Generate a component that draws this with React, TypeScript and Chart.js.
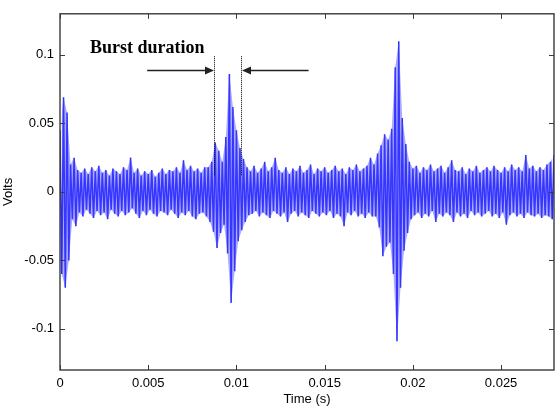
import { useEffect, useRef } from "react";
import { Chart, registerables } from "chart.js";

Chart.register(...registerables);

// Oscillating probe signal: alternating positive / negative extrema, one every SAMPLE_STEP seconds.
const SAMPLE_STEP = 0.0001;

// Positive extrema at t = 2k * SAMPLE_STEP (V)
const positivePeaks = [
  0.045, 0.069, 0.058, 0.020, 0.025,
  0.016, 0.014, 0.017, 0.013, 0.018, 0.015, 0.019, 0.014, 0.016, 0.012,
  0.017, 0.015, 0.013, 0.018, 0.016, 0.025, 0.014, 0.017, 0.012, 0.015,
  0.013, 0.016, 0.011, 0.014, 0.017, 0.013, 0.016, 0.015, 0.018, 0.014,
  0.023, 0.016, 0.019, 0.015, 0.017, 0.014, 0.018,
  0.018, 0.022, 0.036, 0.030, 0.022, 0.040, 0.086, 0.062, 0.045, 0.032, 0.024, 0.018,
  0.015, 0.019, 0.014, 0.017, 0.022, 0.015, 0.018, 0.025, 0.016, 0.014,
  0.018, 0.013, 0.017, 0.015, 0.019, 0.014, 0.016, 0.020, 0.013, 0.017,
  0.015, 0.018, 0.014, 0.016, 0.019, 0.015, 0.017, 0.013, 0.018, 0.016,
  0.020, 0.015, 0.017, 0.019, 0.025,
  0.020, 0.028, 0.034, 0.042, 0.038, 0.046, 0.091, 0.110, 0.054, 0.035, 0.022,
  0.017, 0.019, 0.014, 0.018, 0.016, 0.020, 0.015, 0.017, 0.019, 0.014,
  0.018, 0.023, 0.016, 0.015, 0.018, 0.013, 0.017, 0.015, 0.019, 0.014,
  0.016, 0.018, 0.015, 0.019, 0.016, 0.014, 0.018, 0.015, 0.020, 0.016,
  0.018, 0.015, 0.027, 0.017, 0.019, 0.015, 0.018, 0.016, 0.020, 0.022,
  0.027,
];

// Negative extrema at t = (2k + 1) * SAMPLE_STEP (V)
const negativePeaks = [
  -0.060, -0.070, -0.050, -0.020, -0.025,
  -0.015, -0.018, -0.013, -0.016, -0.019, -0.014, -0.017, -0.015, -0.020, -0.013,
  -0.016, -0.018, -0.014, -0.017, -0.015, -0.012, -0.016, -0.019, -0.014, -0.017,
  -0.013, -0.016, -0.018, -0.014, -0.015, -0.017, -0.013, -0.016, -0.019, -0.015,
  -0.017, -0.014, -0.018, -0.020, -0.016, -0.015, -0.018,
  -0.022, -0.029, -0.041, -0.030, -0.024, -0.045, -0.081, -0.058, -0.036, -0.028, -0.022, -0.017,
  -0.016, -0.014, -0.018, -0.015, -0.017, -0.019, -0.014, -0.016, -0.018, -0.015,
  -0.022, -0.016, -0.014, -0.018, -0.015, -0.017, -0.019, -0.014, -0.016, -0.018,
  -0.015, -0.017, -0.014, -0.019, -0.016, -0.018, -0.025, -0.015, -0.017, -0.014,
  -0.018, -0.016, -0.019, -0.015, -0.018,
  -0.018, -0.026, -0.047, -0.040, -0.037, -0.060, -0.109, -0.070, -0.043, -0.030, -0.020,
  -0.017, -0.015, -0.019, -0.016, -0.018, -0.014, -0.022, -0.016, -0.018, -0.015,
  -0.017, -0.022, -0.015, -0.018, -0.016, -0.019, -0.014, -0.017, -0.015, -0.018,
  -0.016, -0.014, -0.018, -0.016, -0.019, -0.015, -0.024, -0.017, -0.015, -0.018,
  -0.016, -0.019, -0.015, -0.017, -0.018, -0.016, -0.019, -0.017, -0.018, -0.020,
];

const X_TICKS = [0, 0.005, 0.01, 0.015, 0.02, 0.025];
const Y_TICKS = [-0.1, -0.05, 0, 0.05, 0.1];
const X_MIN = 0;
const X_MAX = 0.028;
const Y_MIN = -0.13;
const Y_MAX = 0.13;

// "Burst duration" marker, in data units
const BURST_START = 0.00875;
const BURST_END = 0.01028;
const MARKER_TOP = 0.099;
const MARKER_BOTTOM = 0.0122;
const ARROW_LEVEL = 0.0892;
const ARROW_LEFT_TAIL = 0.00494;
const ARROW_RIGHT_TAIL = 0.01409;
const LABEL_X = 0.0017;
const LABEL_Y = 0.1014;
const LABEL_TEXT = "Burst duration";

const upperEnvelope = positivePeaks.map((y, k) => ({ x: 2 * k * SAMPLE_STEP, y }));
const lowerEnvelope = negativePeaks.map((y, k) => ({ x: (2 * k + 1) * SAMPLE_STEP, y }));

function buildSignal() {
  const pts: { x: number; y: number }[] = [];
  for (let k = 0; k < upperEnvelope.length; k++) {
    pts.push(upperEnvelope[k]);
    if (k < lowerEnvelope.length) pts.push(lowerEnvelope[k]);
  }
  return pts;
}

const framePlugin = {
  id: "matlabFrame",
  afterDraw(chart: any) {
    const { ctx, chartArea: a, scales } = chart;
    const xs = scales.x;
    const ys = scales.y;
    const tl = 5;
    ctx.save();
    ctx.strokeStyle = "#3a3a3a";
    ctx.lineWidth = 1.4;
    ctx.strokeRect(a.left, a.top, a.right - a.left, a.bottom - a.top);
    ctx.lineWidth = 1;
    ctx.beginPath();
    for (const v of X_TICKS) {
      const px = Math.round(xs.getPixelForValue(v)) + 0.5;
      ctx.moveTo(px, a.bottom);
      ctx.lineTo(px, a.bottom - tl);
      ctx.moveTo(px, a.top);
      ctx.lineTo(px, a.top + tl);
    }
    for (const v of Y_TICKS) {
      const py = Math.round(ys.getPixelForValue(v)) + 0.5;
      ctx.moveTo(a.left, py);
      ctx.lineTo(a.left + tl, py);
      ctx.moveTo(a.right, py);
      ctx.lineTo(a.right - tl, py);
    }
    ctx.stroke();
    ctx.restore();
  },
};

const burstPlugin = {
  id: "burstMarker",
  afterDatasetsDraw(chart: any) {
    const { ctx, scales } = chart;
    const xs = scales.x;
    const ys = scales.y;
    const x1 = Math.round(xs.getPixelForValue(BURST_START)) + 0.5;
    const x2 = Math.round(xs.getPixelForValue(BURST_END)) + 0.5;
    const yTop = ys.getPixelForValue(MARKER_TOP);
    const yBot = ys.getPixelForValue(MARKER_BOTTOM);
    const ya = Math.round(ys.getPixelForValue(ARROW_LEVEL)) + 0.5;
    const xl = xs.getPixelForValue(ARROW_LEFT_TAIL);
    const xr = xs.getPixelForValue(ARROW_RIGHT_TAIL);

    ctx.save();
    // dotted boundaries
    ctx.strokeStyle = "#000";
    ctx.lineWidth = 1;
    ctx.setLineDash([1, 1]);
    ctx.beginPath();
    ctx.moveTo(x1, yTop);
    ctx.lineTo(x1, yBot);
    ctx.moveTo(x2, yTop);
    ctx.lineTo(x2, yBot);
    ctx.stroke();
    ctx.setLineDash([]);

    // arrows
    const head = 9;
    const half = 4;
    ctx.strokeStyle = "#222";
    ctx.fillStyle = "#222";
    ctx.lineWidth = 1.5;
    ctx.beginPath();
    ctx.moveTo(xl, ya);
    ctx.lineTo(x1 - head, ya);
    ctx.moveTo(xr, ya);
    ctx.lineTo(x2 + head, ya);
    ctx.stroke();
    ctx.beginPath();
    ctx.moveTo(x1 - 0.5, ya);
    ctx.lineTo(x1 - 0.5 - head, ya - half);
    ctx.lineTo(x1 - 0.5 - head, ya + half);
    ctx.closePath();
    ctx.moveTo(x2 + 0.5, ya);
    ctx.lineTo(x2 + 0.5 + head, ya - half);
    ctx.lineTo(x2 + 0.5 + head, ya + half);
    ctx.closePath();
    ctx.fill();

    // label
    ctx.fillStyle = "#000";
    ctx.font = "bold 18px 'Liberation Serif', 'Times New Roman', serif";
    ctx.textAlign = "left";
    ctx.textBaseline = "alphabetic";
    ctx.fillText(LABEL_TEXT, xs.getPixelForValue(LABEL_X), ys.getPixelForValue(LABEL_Y));
    ctx.restore();
  },
};

export default function App() {
  const canvasRef = useRef<HTMLCanvasElement | null>(null);

  useEffect(() => {
    const canvas = canvasRef.current;
    if (!canvas) return;
    const tickFont = { family: "'Liberation Sans', Arial, sans-serif", size: 13 };
    const chart = new Chart(canvas, {
      type: "line",
      data: {
        datasets: [
          {
            // faint band between the positive and negative extrema
            data: upperEnvelope,
            borderWidth: 0,
            borderColor: "rgba(0,0,0,0)",
            backgroundColor: "rgba(70,70,255,0.45)",
            pointRadius: 0,
            tension: 0,
            fill: "+1",
          },
          {
            data: lowerEnvelope,
            borderWidth: 0,
            borderColor: "rgba(0,0,0,0)",
            pointRadius: 0,
            tension: 0,
            fill: false,
          },
          {
            data: buildSignal(),
            borderColor: "rgb(40,40,255)",
            borderWidth: 1.5,
            pointRadius: 0,
            tension: 0,
            fill: false,
          },
        ],
      },
      options: {
        responsive: false,
        animation: false,
        parsing: false,
        devicePixelRatio: 1,
        layout: { padding: { left: 0, right: 3, top: 10, bottom: 0 } },
        plugins: { legend: { display: false }, tooltip: { enabled: false } },
        scales: {
          x: {
            type: "linear",
            min: X_MIN,
            max: X_MAX,
            grid: { display: false, drawTicks: false },
            border: { display: false },
            afterBuildTicks: (s: any) => {
              s.ticks = X_TICKS.map((value) => ({ value }));
            },
            afterFit: (s: any) => {
              s.height = 40;
            },
            ticks: {
              autoSkip: false,
              maxRotation: 0,
              padding: 6,
              color: "#000",
              font: tickFont,
              callback: (v: any) => String(v),
            },
            title: {
              display: true,
              text: "Time (s)",
              color: "#000",
              font: tickFont,
              padding: { top: 0, bottom: 3 },
            },
          },
          y: {
            type: "linear",
            min: Y_MIN,
            max: Y_MAX,
            grid: { display: false, drawTicks: false },
            border: { display: false },
            afterBuildTicks: (s: any) => {
              s.ticks = Y_TICKS.map((value) => ({ value }));
            },
            afterFit: (s: any) => {
              s.width = 60;
            },
            ticks: {
              autoSkip: false,
              padding: 6,
              color: "#000",
              font: tickFont,
              callback: (v: any) => String(v),
            },
            title: {
              display: true,
              text: "Volts",
              color: "#000",
              font: tickFont,
              padding: { top: 1, bottom: 0 },
            },
          },
        },
      },
      plugins: [framePlugin, burstPlugin],
    });
    return () => chart.destroy();
  }, []);

  return (
    <div style={{ position: "absolute", left: 0, top: 0, width: 557, height: 410, background: "#fff" }}>
      <canvas ref={canvasRef} width={557} height={410} />
    </div>
  );
}
